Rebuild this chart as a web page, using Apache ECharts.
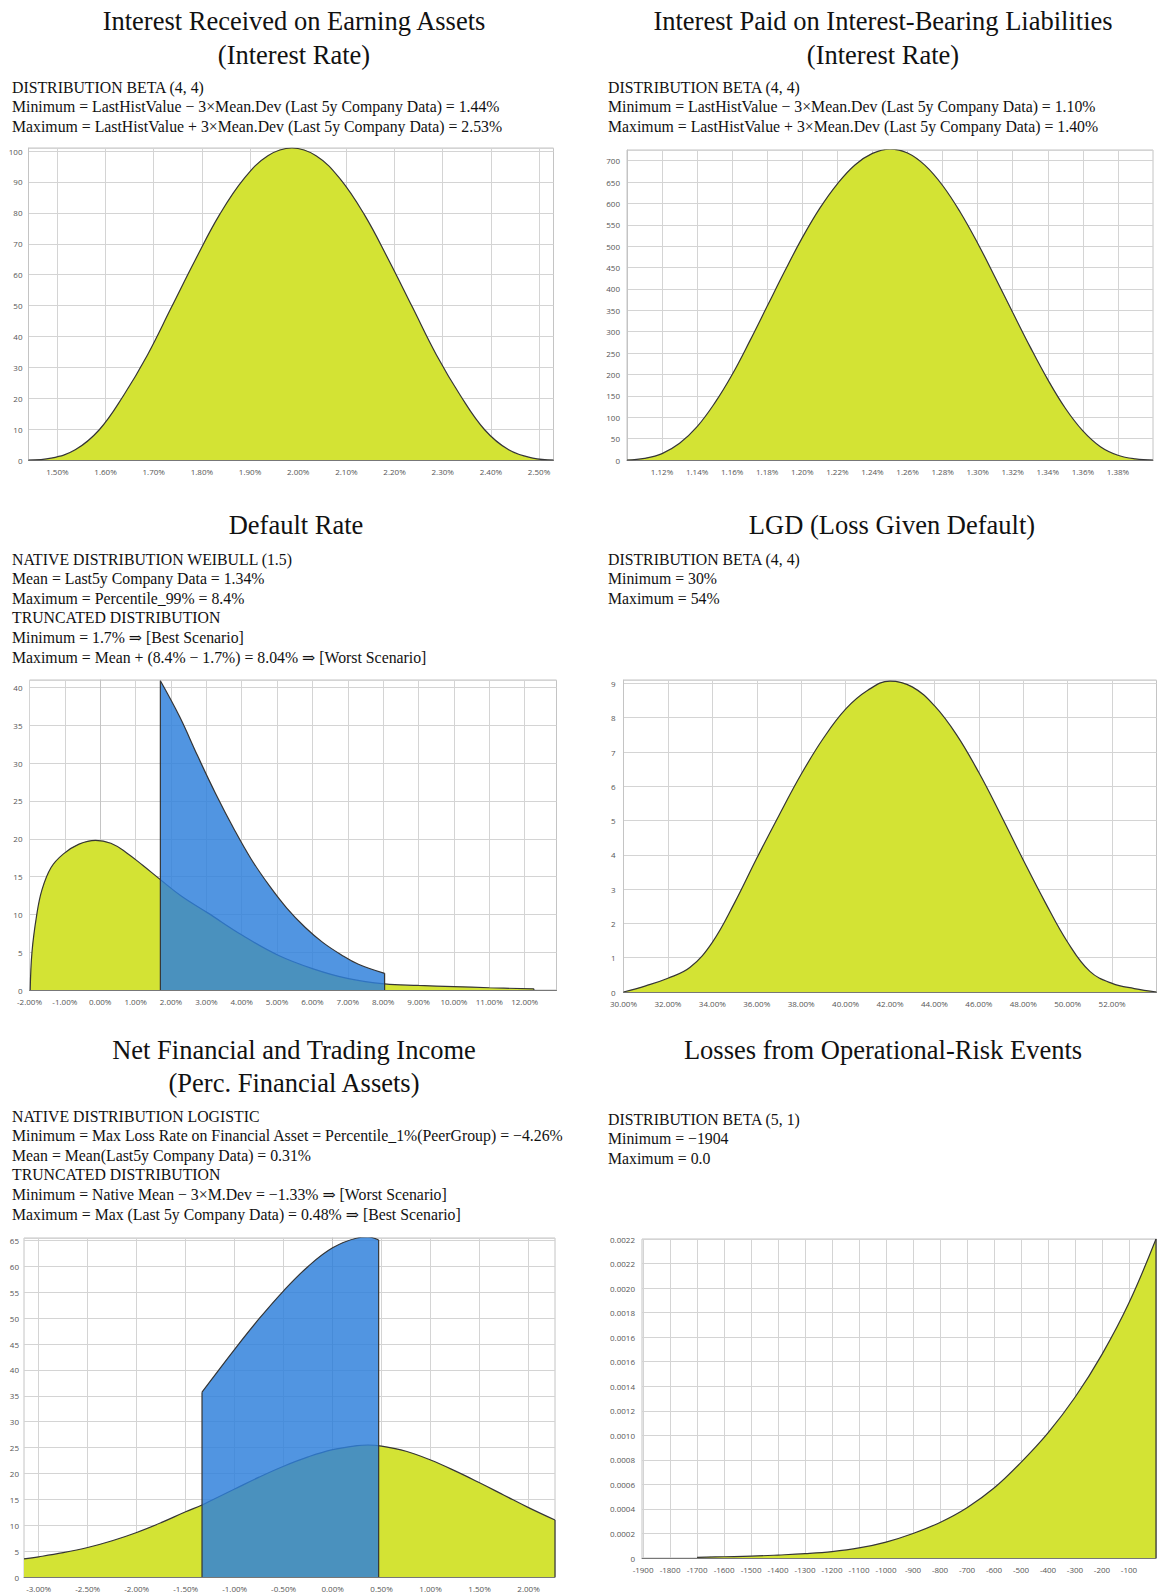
<!DOCTYPE html>
<html>
<head>
<meta charset="utf-8">
<script src="https://cdn.jsdelivr.net/npm/echarts@6/dist/echarts.min.js"></script>
<style>
html,body{margin:0;padding:0;background:#ffffff;}
#c{width:1158px;height:1592px;}
</style>
</head>
<body>
<div id="c"></div>
<script>
// ---------------- Panel texts ----------------
const p1Title = ['Interest Received on Earning Assets', '(Interest Rate)'];
const p1Notes = ['DISTRIBUTION BETA (4, 4)',
  'Minimum = LastHistValue \u2212 3\u00d7Mean.Dev (Last 5y Company Data) = 1.44%',
  'Maximum = LastHistValue + 3\u00d7Mean.Dev (Last 5y Company Data) = 2.53%'];
const p2Title = ['Interest Paid on Interest-Bearing Liabilities', '(Interest Rate)'];
const p2Notes = ['DISTRIBUTION BETA (4, 4)',
  'Minimum = LastHistValue \u2212 3\u00d7Mean.Dev (Last 5y Company Data) = 1.10%',
  'Maximum = LastHistValue + 3\u00d7Mean.Dev (Last 5y Company Data) = 1.40%'];
const p3Title = ['Default Rate'];
const p3Notes = ['NATIVE DISTRIBUTION WEIBULL (1.5)',
  'Mean = Last5y Company Data = 1.34%',
  'Maximum = Percentile_99% = 8.4%',
  'TRUNCATED DISTRIBUTION',
  'Minimum = 1.7% \u21d2 [Best Scenario]',
  'Maximum = Mean + (8.4% \u2212 1.7%) = 8.04% \u21d2 [Worst Scenario]'];
const p4Title = ['LGD (Loss Given Default)'];
const p4Notes = ['DISTRIBUTION BETA (4, 4)', 'Minimum = 30%', 'Maximum = 54%'];
const p5Title = ['Net Financial and Trading Income', '(Perc. Financial Assets)'];
const p5Notes = ['NATIVE DISTRIBUTION LOGISTIC',
  'Minimum = Max Loss Rate on Financial Asset = Percentile_1%(PeerGroup) = \u22124.26%',
  'Mean = Mean(Last5y Company Data) = 0.31%',
  'TRUNCATED DISTRIBUTION',
  'Minimum = Native Mean \u2212 3\u00d7M.Dev = \u22121.33% \u21d2 [Worst Scenario]',
  'Maximum = Max (Last 5y Company Data) = 0.48% \u21d2 [Best Scenario]'];
const p6Title = ['Losses from Operational-Risk Events'];
const p6Notes = ['DISTRIBUTION BETA (5, 1)', 'Minimum = \u22121904', 'Maximum = 0.0'];

// ---------------- Data ----------------
// 1. Interest received (%, density)
const irX = [1.44, 1.487, 1.537, 1.587, 1.637, 1.687, 1.737, 1.787, 1.837, 1.887, 1.937, 1.987, 2.037, 2.087, 2.137, 2.187, 2.237, 2.287, 2.337, 2.387, 2.437, 2.487, 2.53];
const irY = [0, 0.6, 3.3, 9.8, 20.8, 34, 49.5, 65, 79.5, 91, 98.5, 101, 98.5, 91, 79.5, 65, 49.5, 34, 20.8, 9.8, 3.3, 0.6, 0];
const irTicks = [1.50, 1.60, 1.70, 1.80, 1.90, 2.00, 2.10, 2.20, 2.30, 2.40, 2.50];

// 2. Interest paid
const ipX = [1.10, 1.11, 1.12, 1.13, 1.14, 1.15, 1.16, 1.17, 1.18, 1.19, 1.20, 1.21, 1.22, 1.23, 1.24, 1.25, 1.26, 1.27, 1.28, 1.29, 1.30, 1.31, 1.32, 1.33, 1.34, 1.35, 1.36, 1.37, 1.38, 1.39, 1.40];
const ipY = [0, 4, 15, 39, 78, 133, 200, 278, 360, 442, 520, 589, 646, 690, 717, 727, 718, 689, 642, 580, 507, 427, 345, 264, 188, 121, 68, 31, 11, 2.5, 0];
const ipTicks = [1.12, 1.14, 1.16, 1.18, 1.20, 1.22, 1.24, 1.26, 1.28, 1.30, 1.32, 1.34, 1.36, 1.38];

// 3. Default rate: native Weibull and truncated distribution
const drNatX = [-1.98, -1.93, -1.8, -1.65, -1.39, -1.04, -0.6, -0.13, 0.3, 0.73, 1.2, 1.7, 2.3, 3.04, 4.03, 5.03, 6.02, 7.02, 8.04, 9.0, 10.0, 11.0, 12.26];
const drNatY = [0, 5.0, 9.8, 13.2, 16.2, 18.0, 19.3, 19.8, 19.4, 18.2, 16.5, 14.6, 12.4, 10.2, 7.2, 4.6, 2.8, 1.5, 0.8, 0.6, 0.45, 0.3, 0.15];
const drTrX = [1.7, 2.25, 2.75, 3.26, 3.77, 4.27, 4.78, 5.28, 5.79, 6.29, 6.80, 7.30, 8.04];
const drTrY = [40.9, 36.1, 31.0, 26.0, 21.4, 17.3, 13.8, 10.8, 8.3, 6.3, 4.7, 3.4, 2.2];
const drTicks = [-2, -1, 0, 1, 2, 3, 4, 5, 6, 7, 8, 9, 10, 11, 12];

// 4. LGD
const lgdX = [30, 31, 32, 33, 34, 35, 36, 37, 38, 39, 40, 41, 42, 43, 44, 45, 46, 47, 48, 49, 50, 51, 52, 53, 54];
const lgdY = [0, 0.18, 0.4, 0.72, 1.45, 2.6, 3.9, 5.15, 6.35, 7.4, 8.25, 8.8, 9.07, 8.9, 8.35, 7.5, 6.4, 5.15, 3.85, 2.6, 1.45, 0.6, 0.25, 0.1, 0];
const lgdTicks = [30, 32, 34, 36, 38, 40, 42, 44, 46, 48, 50, 52];

// 5. Net financial and trading income: native logistic and truncated
const nfNatX = [-3.15, -3.0, -2.75, -2.5, -2.25, -2.0, -1.75, -1.5, -1.333, -1.25, -1.0, -0.75, -0.5, -0.25, 0.0, 0.25, 0.36, 0.5, 0.75, 1.0, 1.25, 1.5, 1.75, 2.0, 2.27];
const nfNatY = [3.5, 3.9, 4.7, 5.7, 7.0, 8.6, 10.5, 12.6, 13.9, 14.7, 17.0, 19.3, 21.4, 23.2, 24.6, 25.4, 25.5, 25.3, 24.3, 22.6, 20.5, 18.2, 15.8, 13.4, 11.0];
const nfTrX = [-1.333, -1.25, -1.0, -0.75, -0.5, -0.25, 0.0, 0.25, 0.36, 0.47];
const nfTrY = [35.7, 37.8, 44.0, 49.9, 55.3, 60.0, 63.6, 65.5, 65.7, 65.1];
const nfTicks = [-3.0, -2.5, -2.0, -1.5, -1.0, -0.5, 0.0, 0.5, 1.0, 1.5, 2.0];

// 6. Operational-risk losses
const opX = [-1700, -1600, -1500, -1400, -1300, -1200, -1100, -1000, -900, -800, -700, -600, -500, -400, -300, -200, -100, 0];
const opY = [0.000005, 0.00001, 0.000015, 0.000024, 0.000035, 0.000052, 0.000082, 0.00013, 0.0002, 0.00029, 0.00041, 0.00057, 0.00078, 0.00102, 0.00131, 0.00166, 0.00208, 0.0026];
const opTicks = [-1900, -1800, -1700, -1600, -1500, -1400, -1300, -1200, -1100, -1000, -900, -800, -700, -600, -500, -400, -300, -200, -100];
const opYLabels = ['0', '0.0002', '0.0004', '0.0006', '0.0008', '0.0010', '0.0012', '0.0014', '0.0016', '0.0016', '0.0018', '0.0020', '0.0022', '0.0022'];

// ---------------- Styles ----------------
const YELLOW = '#d3e334';
const BLUE = 'rgb(46,128,219)';
const STROKE = '#353535';
const GRIDC = '#d4d4d4';
const FRAMEC = '#c4c4c4';
const LABC = '#555555';
const SERIF = '"Liberation Serif", "DejaVu Serif", serif';
const SANS = '"Open Sans", "Noto Sans", sans-serif';
const TITLE_FONT = '26.5px ' + SERIF;
const NOTE_FONT = '15.8px ' + SERIF;

// ---------------- Text blocks ----------------
const graphics = [];
function titleBlock(lines, cx, y0, dy) {
  lines.forEach((t, i) => graphics.push({type: 'text', x: cx, y: y0 + i * dy, silent: true,
    style: {text: t, font: TITLE_FONT, fill: '#111', align: 'center', verticalAlign: 'middle'}}));
}
function noteBlock(lines, x, y0, dy) {
  lines.forEach((t, i) => graphics.push({type: 'text', x: x, y: y0 + i * dy, silent: true,
    style: {text: t, font: NOTE_FONT, fill: '#111', align: 'left', verticalAlign: 'middle'}}));
}
titleBlock(p1Title, 294, 21, 34);
titleBlock(p2Title, 883, 21, 34);
noteBlock(p1Notes, 12, 87, 19.5);
noteBlock(p2Notes, 608, 87, 19.5);
titleBlock(p3Title, 296, 525, 34);
titleBlock(p4Title, 892, 525, 34);
noteBlock(p3Notes, 12, 559, 19.6);
noteBlock(p4Notes, 608, 559, 19.6);
titleBlock(p5Title, 294, 1050, 33);
titleBlock(p6Title, 883, 1050, 33);
noteBlock(p5Notes, 12, 1116, 19.6);
noteBlock(p6Notes, 608, 1119, 19.6);

// ---------------- Grids / axes ----------------
const gridBoxes = [
  [28.5, 148, 525, 312],
  [627, 150, 526, 310],
  [29.5, 680, 527, 310],
  [623.5, 680, 533, 312],
  [24, 1238, 531, 339],
  [642, 1239, 514, 319]
];
const grids = gridBoxes.map(b => ({left: b[0], top: b[1], width: b[2], height: b[3],
  show: true, borderColor: FRAMEC, borderWidth: 1, backgroundColor: '#fff'}));

const pct = v => v.toFixed(2) + '%';
function xAx(i, min, max, ticks, fmt) {
  return {type: 'value', gridIndex: i, min: min, max: max,
    axisLine: {show: true, onZero: false, lineStyle: {color: '#777'}},
    axisTick: {show: false, customValues: ticks},
    axisLabel: {customValues: ticks, formatter: fmt, fontSize: 8, color: LABC, fontFamily: SANS, margin: 7},
    splitLine: {show: true, lineStyle: {color: GRIDC, width: 1}}};
}
function yAx(i, max, interval, margin, fmt, showMax) {
  return {type: 'value', gridIndex: i, min: 0, max: max, interval: interval,
    axisLine: {show: true, lineStyle: {color: FRAMEC}},
    axisTick: {show: false},
    axisLabel: {fontSize: 8, color: LABC, fontFamily: SANS, margin: margin, formatter: fmt,
      showMaxLabel: !!showMax},
    splitLine: {show: true, lineStyle: {color: GRIDC, width: 1}}};
}
const xAxes = [
  xAx(0, 1.44, 2.53, irTicks, pct),
  xAx(1, 1.10, 1.40, ipTicks, pct),
  xAx(2, -2, 12.9, drTicks, pct),
  xAx(3, 30, 54, lgdTicks, pct),
  xAx(4, -3.15, 2.27, nfTicks, pct),
  xAx(5, -1904, 0, opTicks, v => String(v))
];
const yAxes = [
  yAx(0, 101, 10, 6, null, false),
  yAx(1, 725, 50, 7, null, false),
  yAx(2, 41, 5, 7, null, false),
  yAx(3, 9.1, 1, 8, null, false),
  yAx(4, 65.5, 5, 5, null, false),
  yAx(5, 0.0026, 0.0002, 7, v => opYLabels[Math.round(v / 0.0002)], true)
];

// ---------------- Series ----------------
const pairs = (xs, ys) => xs.map((x, i) => [x, ys[i]]);
function area(i, xs, ys, color, opacity, z) {
  return {type: 'line', xAxisIndex: i, yAxisIndex: i, data: pairs(xs, ys), smooth: 0.4,
    symbol: 'none', silent: true, z: z, clip: true,
    lineStyle: {color: STROKE, width: 1.2},
    areaStyle: {color: color, opacity: opacity}};
}
function edge(i, x, y, z) {
  return {type: 'line', xAxisIndex: i, yAxisIndex: i, data: [[x, 0], [x, y]], smooth: false,
    symbol: 'none', silent: true, z: z, lineStyle: {color: STROKE, width: 1.2}};
}
const series = [
  area(0, irX, irY, YELLOW, 1, 2),
  area(1, ipX, ipY, YELLOW, 1, 2),
  area(2, drNatX, drNatY, YELLOW, 1, 2),
  edge(2, drNatX[drNatX.length - 1], drNatY[drNatY.length - 1], 2),
  area(2, drTrX, drTrY, BLUE, 0.83, 3),
  edge(2, drTrX[0], drTrY[0], 4),
  edge(2, drTrX[drTrX.length - 1], drTrY[drTrY.length - 1], 4),
  area(3, lgdX, lgdY, YELLOW, 1, 2),
  area(4, nfNatX, nfNatY, YELLOW, 1, 2),
  edge(4, nfNatX[nfNatX.length - 1], nfNatY[nfNatY.length - 1], 2),
  area(4, nfTrX, nfTrY, BLUE, 0.83, 3),
  edge(4, nfTrX[0], nfTrY[0], 4),
  edge(4, nfTrX[nfTrX.length - 1], nfTrY[nfTrY.length - 1], 4),
  area(5, opX, opY, YELLOW, 1, 2),
  edge(5, opX[opX.length - 1], opY[opY.length - 1], 2)
];

const chart = echarts.init(document.getElementById('c'), null, {renderer: 'svg', width: 1158, height: 1592});
chart.setOption({
  animation: false,
  backgroundColor: '#ffffff',
  grid: grids,
  xAxis: xAxes,
  yAxis: yAxes,
  series: series,
  graphic: graphics
});
</script>
</body>
</html>
